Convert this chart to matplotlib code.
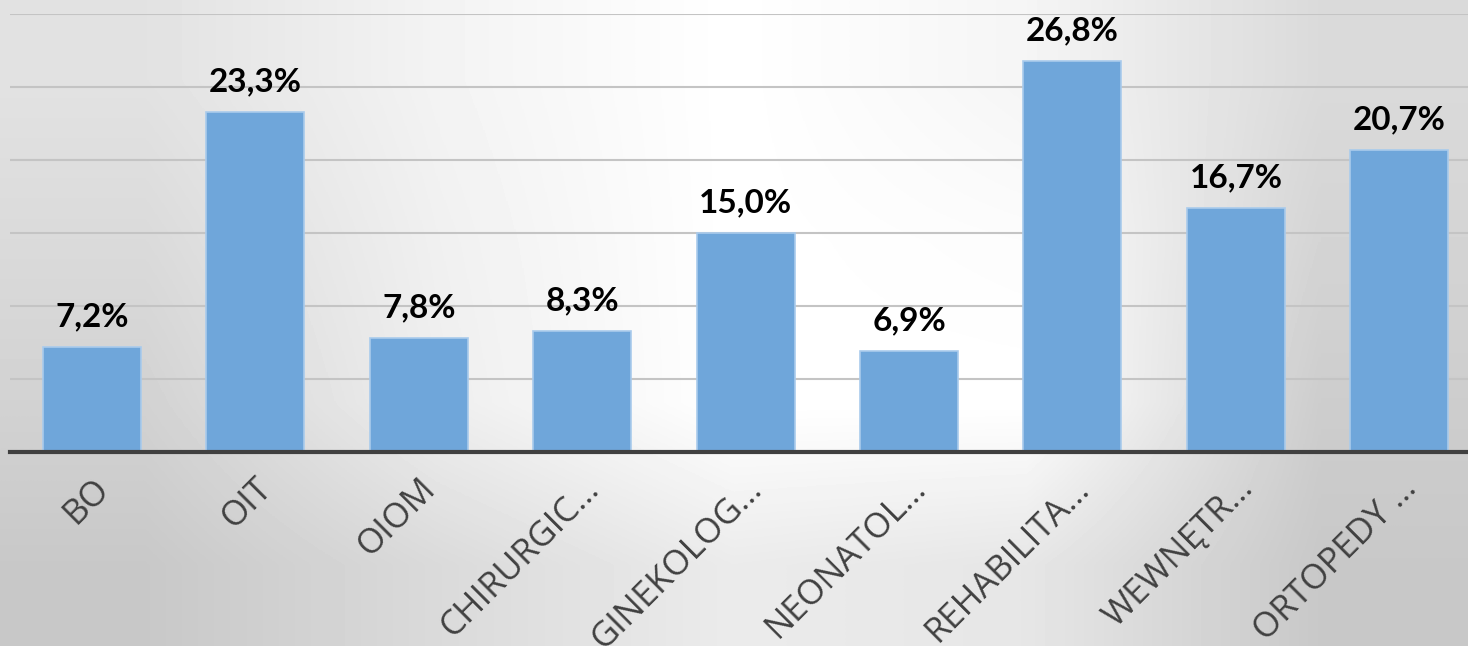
import numpy as np
import matplotlib.pyplot as plt

categories = ["BO", "OIT", "OIOM", "CHIRURGIC…", "GINEKOLOG…", "NEONATOL…",
              "REHABILITA…", "WEWNĘTR…", "ORTOPEDY …"]
values = [7.2, 23.3, 7.8, 8.3, 15.0, 6.9, 26.8, 16.7, 20.7]
labels = ["7,2%", "23,3%", "7,8%", "8,3%", "15,0%", "6,9%", "26,8%", "16,7%", "20,7%"]

W, H = 1468, 646
fig = plt.figure(figsize=(W / 100, H / 100), dpi=100)

# soft grey background, lighter in the middle
bg_levels = np.array([
    [226, 243, 255, 245, 218],
    [218, 240, 255, 252, 212],
    [210, 238, 255, 255, 205],
    [200, 218, 235, 230, 200],
]) / 255.0
bg = fig.add_axes([0, 0, 1, 1])
bg.imshow(bg_levels, cmap="gray", vmin=0, vmax=1, aspect="auto",
          interpolation="bilinear", extent=[0, 1, 0, 1])
bg.axis("off")

# main axes: baseline at y=452px, 30% at y=14px, categories span 10..1481px
left, right = 10.3, 1481.0
ax = fig.add_axes([left / W, (H - 452) / H, (right - left) / W, (452 - 14) / H])
ax.set_facecolor("none")

x = np.arange(len(categories))
ax.bar(x, values, width=0.6, color="#6fa6da", edgecolor="#a9cbec", linewidth=1.2, zorder=3)

for xi, v, lab in zip(x, values, labels):
    ax.annotate(lab, (xi, v), xytext=(0, 15), textcoords="offset points",
                ha="center", va="baseline", fontsize=24, fontweight="bold",
                family="Lato", color="#000000", zorder=4)

ax.set_xlim(-0.5, len(categories) - 0.5)
ax.set_ylim(0, 30)
ax.set_yticks(np.arange(5, 31, 5))
ax.yaxis.grid(True, color="#c4c4c4", linewidth=1.5, zorder=0)
ax.tick_params(axis="y", left=False, labelleft=False)
ax.tick_params(axis="x", length=0, pad=14)
ax.set_xticks(x)
ax.set_xticklabels(categories, rotation=45, ha="right", rotation_mode="anchor",
                   fontsize=25, family="Open Sans", color="#404040")
for s in ["left", "right", "top"]:
    ax.spines[s].set_visible(False)
ax.spines["bottom"].set_color("#404040")
ax.spines["bottom"].set_linewidth(3)
ax.spines["bottom"].set_zorder(5)

fig.savefig("out.png", dpi=100)
